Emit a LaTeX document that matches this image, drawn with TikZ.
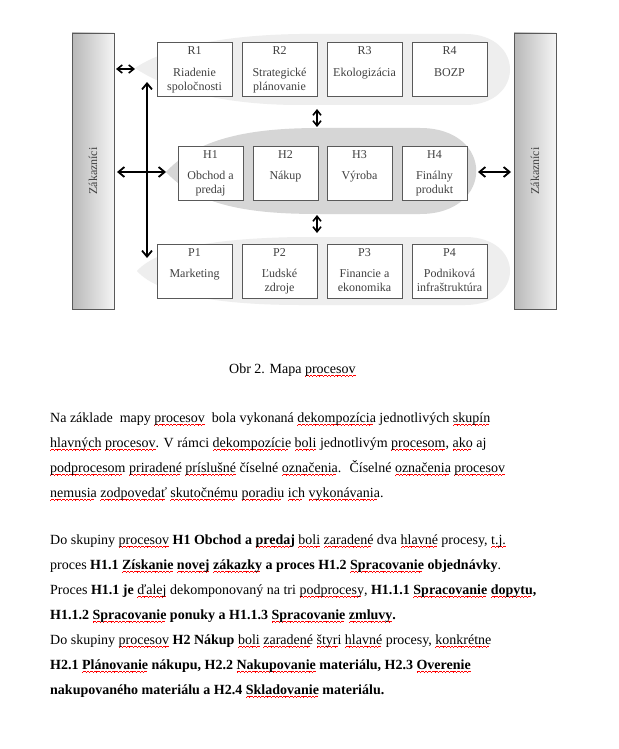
\documentclass[tikz,border=0pt]{standalone}
\usepackage{fontspec}
\setmainfont{Liberation Serif}
\usetikzlibrary{arrows.meta}
\newbox\wvbox
\newcommand\wvsq{\vrule width0.9pt height0.9pt depth0pt}
\newcommand\wvunit{\hbox{\raise0pt\hbox{\wvsq}\raise0.8pt\hbox{\wvsq}\raise1.6pt\hbox{\wvsq}\raise0.8pt\hbox{\wvsq}}}
\newcommand\wv[1]{\setbox\wvbox\hbox{#1}\rlap{\color{red}\lower4pt\hbox to\wd\wvbox{\leaders\wvunit\hfill}}\box\wvbox}
\definecolor{lightbg}{HTML}{EEEEEE}
\definecolor{midbg}{HTML}{D6D6D6}
\begin{document}
\begin{tikzpicture}[x=1pt,y=-1pt,
  pbox/.style={draw=black!65, fill=white, line width=0.8pt, inner sep=0pt},
  cust/.style={draw=black!65, line width=0.8pt, left color=black!28, right color=black!4, inner sep=0pt, minimum width=42pt, minimum height=276pt},
  lbl/.style={font=\fontsize{12}{14}\selectfont, text=black!75, inner sep=0pt, align=center},
  dbl/.style={{Straight Barb[length=6pt,width=10pt]}-{Straight Barb[length=6pt,width=10pt]}, line width=1.8pt},
  sdbl/.style={{Straight Barb[length=5pt,width=8pt]}-{Straight Barb[length=5pt,width=8pt]}, line width=1.6pt},
  body/.style={anchor=base west, inner sep=0pt, font=\fontsize{14}{17}\selectfont}]
\useasboundingbox (0,0) rectangle (618,749);
\fill[white] (0,0) rectangle (618,749);
% background shapes
\fill[lightbg] (135,68) .. controls (170,45) and (230,35) .. (300,34) -- (465,34) .. controls (525,34) and (525,105) .. (465,105) -- (300,105) .. controls (230,105) and (170,92) .. (135,68) -- cycle;
\fill[midbg] (166,172) .. controls (200,135) and (260,128) .. (320,128) -- (420,128) .. controls (495,128) and (495,214) .. (420,214) -- (320,214) .. controls (260,214) and (200,209) .. (166,172) -- cycle;
\fill[lightbg] (137,271) .. controls (160,245) and (230,238) .. (300,237) -- (465,237) .. controls (525,237) and (525,305) .. (465,305) -- (300,305) .. controls (230,305) and (160,297) .. (137,271) -- cycle;
% customers
\node[cust] (zl) at (93,171) {};
\node[lbl, rotate=90] (zlt) at (zl.center) {Zákazníci};
\node[cust] (zr) at (535,171) {};
\node[lbl, rotate=90] (zrt) at (zr.center) {Zákazníci};
% R row
\node[pbox, minimum width=75pt, minimum height=54pt] (r1) at (194.5,69) {};
\node[pbox, minimum width=75pt, minimum height=54pt] (r2) at (279.5,69) {};
\node[pbox, minimum width=75pt, minimum height=54pt] (r3) at (364.5,69) {};
\node[pbox, minimum width=75pt, minimum height=54pt] (r4) at (449.5,69) {};
% H row
\node[pbox, minimum width=65pt, minimum height=54pt] (h1) at (210.5,173) {};
\node[pbox, minimum width=65pt, minimum height=54pt] (h2) at (285.5,173) {};
\node[pbox, minimum width=65pt, minimum height=54pt] (h3) at (359.5,173) {};
\node[pbox, minimum width=65pt, minimum height=54pt] (h4) at (434.5,173) {};
% P row
\node[pbox, minimum width=75pt, minimum height=54pt] (p1) at (194.5,271) {};
\node[pbox, minimum width=75pt, minimum height=54pt] (p2) at (279.5,271) {};
\node[pbox, minimum width=75pt, minimum height=54pt] (p3) at (364.5,271) {};
\node[pbox, minimum width=75pt, minimum height=54pt] (p4) at (449.5,271) {};
% labels (last field: baseline of the last line below the box top)
\foreach \n/\c/\t/\b in {r1/R1/{Riadenie\\spoločnosti}/49, r2/R2/{Strategické\\plánovanie}/49, r3/R3/{Ekologizácia}/35, r4/R4/{BOZP}/35,
  h1/H1/{Obchod a\\predaj}/48, h2/H2/{Nákup}/34, h3/H3/{Výroba}/34, h4/H4/{Finálny\\produkt}/48,
  p1/P1/{Marketing}/34, p2/P2/{Ľudské\\zdroje}/48, p3/P3/{Financie a\\ekonomika}/48, p4/P4/{Podniková\\infraštruktúra}/48}{
  \path (\n.north) ++(0,13) node[lbl, anchor=base] (\n c) {\c};
  \path (\n.north) ++(0,\b) node[lbl, anchor=base] (\n t) {\t};
}
% arrows
\coordinate (vt) at (147,82);
\coordinate (vb) at (147,258);
\draw[dbl] (vt) -- (vb);
\coordinate (la) at (117,172);
\coordinate (htip) at (166,172);
\draw[dbl] (la) -- (htip);
\coordinate (hr) at (478,172);
\coordinate (ra) at (511,172);
\draw[dbl] (hr) -- (ra);
\coordinate (da) at (116,69);
\coordinate (db) at (135,69);
\draw[sdbl] (da) -- (db);
\coordinate (rh1) at (317,109);
\coordinate (rh2) at (317,127);
\draw[sdbl] (rh1) -- (rh2);
\coordinate (hp1) at (317,215);
\coordinate (hp2) at (317,233);
\draw[sdbl] (hp1) -- (hp2);
% caption and text
\node[body] (cap) at (229,373) {Obr 2. Mapa \wv{procesov}};
\node[body] (a1) at (50,422) {Na základe \ mapy \wv{procesov} \ bola vykonaná \wv{dekompozícia} jednotlivých \wv{skupín}};
\node[body] (a2) at (50,447) {\wv{hlavných} \wv{procesov}. V rámci \wv{dekompozície} \wv{boli} jednotlivým \wv{procesom}, \wv{ako} aj};
\node[body] (a3) at (50,472) {\wv{podprocesom} \wv{priradené} \wv{príslušné} číselné \wv{označenia}. \ Číselné \wv{označenia} \wv{procesov}};
\node[body] (a4) at (50,497) {\wv{nemusia} \wv{zodpovedať} \wv{skutočnému} \wv{poradiu} \wv{ich} \wv{vykonávania}.};
\node[body] (b1) at (50,544) {Do skupiny \wv{procesov} \textbf{H1 Obchod a \wv{predaj}} \wv{boli} \wv{zaradené} dva \wv{hlavné} procesy, \wv{t.j.}};
\node[body] (b2) at (50,569) {proces \textbf{H1.1 \wv{Získanie} \wv{novej} \wv{zákazky} a proces H1.2 \wv{Spracovanie} objednávky}.};
\node[body] (b3) at (50,594) {Proces \textbf{H1.1 je} \wv{ďalej} dekomponovaný na tri \wv{podprocesy}, \textbf{H1.1.1 \wv{Spracovanie} \wv{dopytu},}};
\node[body] (b4) at (50,619) {\textbf{H1.1.2 \wv{Spracovanie} ponuky a H1.1.3 \wv{Spracovanie} \wv{zmluvy}.}};
\node[body] (b5) at (50,644) {Do skupiny \wv{procesov} \textbf{H2 Nákup} \wv{boli} \wv{zaradené} \wv{štyri} \wv{hlavné} procesy, \wv{konkrétne}};
\node[body] (b6) at (50,669) {\textbf{H2.1 \wv{Plánovanie} nákupu, H2.2 \wv{Nakupovanie} materiálu, H2.3 \wv{Overenie}}};
\node[body] (b7) at (50,694) {\textbf{nakupovaného materiálu a H2.4 \wv{Skladovanie} materiálu.}};
\end{tikzpicture}
\end{document}
